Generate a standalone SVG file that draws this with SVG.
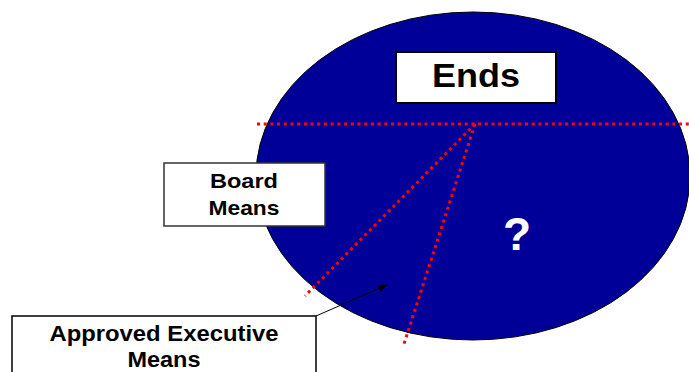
<svg xmlns="http://www.w3.org/2000/svg" width="689" height="372" viewBox="0 0 689 372">
<style>
.box{fill:#ffffff;stroke:#000000;stroke-width:1.5}
.lbl{font-family:"Liberation Sans",Arial,sans-serif;font-weight:bold;fill:#000000;text-anchor:middle}
.dot{stroke:#ff0000;stroke-width:3;stroke-dasharray:3 3.7;fill:none}
</style>
<defs>
<marker id="ah" markerWidth="10" markerHeight="8" refX="9" refY="4" orient="auto" markerUnits="userSpaceOnUse">
<path d="M0,0 L10,4 L0,8 z" fill="#000000"/>
</marker>
</defs>
<rect width="689" height="372" fill="#ffffff"/>
<g id="ellipse">
<ellipse cx="473" cy="176" rx="217" ry="164" fill="#000099" stroke="#000000" stroke-width="1"/>
<text x="517" y="250" class="lbl" style="fill:#ffffff;font-size:46px">?</text>
</g>
<g id="connectors">
<line class="dot" x1="257" y1="124" x2="689" y2="124"/>
<line class="dot" x1="475" y1="124" x2="305" y2="296"/>
<line class="dot" x1="475" y1="124" x2="403" y2="347"/>
<line x1="316" y1="316" x2="387" y2="285" stroke="#000000" stroke-width="1" marker-end="url(#ah)"/>
</g>
<g id="ends">
<rect class="box" x="396" y="52" width="160" height="51" style="stroke-width:2"/>
<text x="476" y="87" class="lbl" style="font-size:33px" textLength="88" lengthAdjust="spacingAndGlyphs">Ends</text>
</g>
<g id="board-means">
<rect class="box" x="164" y="163" width="161" height="63" style="stroke:#333333"/>
<text x="244" y="188" class="lbl" style="font-size:20.5px" textLength="68" lengthAdjust="spacingAndGlyphs">Board</text>
<text x="244" y="215" class="lbl" style="font-size:20.5px" textLength="71" lengthAdjust="spacingAndGlyphs">Means</text>
</g>
<g id="approved-executive-means">
<rect class="box" x="12" y="316" width="304" height="60"/>
<text x="164" y="341" class="lbl" style="font-size:22px" textLength="229" lengthAdjust="spacingAndGlyphs">Approved Executive</text>
<text x="164" y="367" class="lbl" style="font-size:22px" textLength="73" lengthAdjust="spacingAndGlyphs">Means</text>
</g>
</svg>
